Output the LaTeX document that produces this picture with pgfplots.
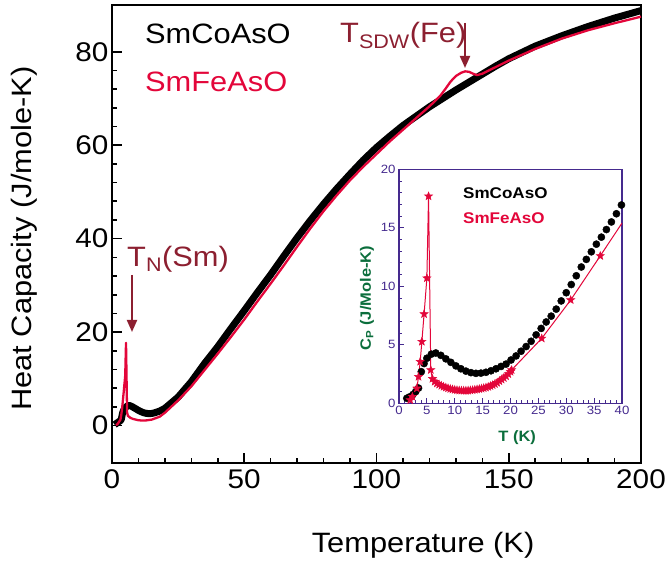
\documentclass[border=0pt]{standalone}
\usepackage{fontspec}
\setmainfont{Liberation Sans}[FakeStretch=1.1]
\usepackage{pgfplots}
\pgfplotsset{compat=1.18}
\usetikzlibrary{arrows.meta}
\definecolor{cred}{HTML}{E3063A}
\definecolor{dred}{HTML}{8C1F30}
\definecolor{ipurp}{HTML}{452A8E}
\definecolor{igreen}{HTML}{0B6E3C}

\pgfdeclareplotmark{fstar}{%
  \pgfpathmoveto{\pgfpointpolar{90}{\pgfplotmarksize}}%
  \pgfpathlineto{\pgfpointpolar{126}{0.42\pgfplotmarksize}}%
  \pgfpathlineto{\pgfpointpolar{162}{\pgfplotmarksize}}%
  \pgfpathlineto{\pgfpointpolar{198}{0.42\pgfplotmarksize}}%
  \pgfpathlineto{\pgfpointpolar{234}{\pgfplotmarksize}}%
  \pgfpathlineto{\pgfpointpolar{270}{0.42\pgfplotmarksize}}%
  \pgfpathlineto{\pgfpointpolar{306}{\pgfplotmarksize}}%
  \pgfpathlineto{\pgfpointpolar{342}{0.42\pgfplotmarksize}}%
  \pgfpathlineto{\pgfpointpolar{18}{\pgfplotmarksize}}%
  \pgfpathlineto{\pgfpointpolar{54}{0.42\pgfplotmarksize}}%
  \pgfpathclose
  \pgfusepathqfillstroke
}

\pgfplotstableread{
T C
1.0 0.2
2.0 0.6
3.0 1.0
3.5 1.3
4.0 2.7
4.5 3.4
5.0 3.85
5.8 4.2
6.6 4.3
7.5 4.1
8.4 3.8
9.3 3.5
10.2 3.2
11.1 2.95
12.0 2.75
13.0 2.62
14.0 2.56
15.0 2.6
16.0 2.72
18.0 3.1
20.0 3.7
25.0 6.1
30.0 9.4
35.0 13.3
40.0 16.9
45.0 20.8
50.0 24.6
55.0 28.5
60.0 32.3
65.0 36.3
70.0 40.2
75.0 43.9
80.0 47.4
85.0 50.7
90.0 53.8
95.0 56.8
100.0 59.5
105.0 61.9
110.0 64.2
115.0 66.2
120.0 68.2
125.0 70.0
130.0 71.8
135.0 73.5
140.0 75.2
145.0 76.9
150.0 78.5
160.0 81.2
170.0 83.4
180.0 85.4
190.0 87.2
200.0 88.8
}\cocomain

\pgfplotstableread{
T C
1.5 0.1
2.0 0.28
2.4 0.57
3.2 1.28
3.5 2.27
3.8 3.56
4.1 5.27
4.5 7.63
5.0 10.7
5.3 17.7
5.7 2.85
6.0 2.1
7.0 1.65
8.0 1.42
10.0 1.15
11.5 1.08
13.0 1.12
15.0 1.28
18.0 1.9
20.0 2.75
25.0 5.4
30.0 8.4
35.0 11.9
40.0 15.4
45.0 19.0
50.0 22.7
55.0 26.6
60.0 30.4
65.0 34.3
70.0 38.3
75.0 42.2
80.0 45.9
85.0 49.3
90.0 52.5
95.0 55.4
100.0 58.1
105.0 60.8
110.0 63.3
115.0 65.8
120.0 68.3
122.0 69.4
124.0 70.5
126.0 72.0
128.0 73.6
130.0 74.8
132.0 75.5
133.5 75.8
135.0 75.7
136.5 75.3
138.0 75.0
140.0 75.3
145.0 76.7
150.0 78.1
160.0 80.6
170.0 82.8
180.0 84.6
190.0 86.1
200.0 87.5
}\femain

\pgfplotstableread{
T C
1.4 0.43
1.9 0.55
2.5 0.75
3.0 1.0
3.5 1.3
4.0 2.7
4.5 3.4
5.0 3.85
5.8 4.2
6.6 4.3
7.5 4.1
8.4 3.8
9.3 3.5
10.2 3.2
11.1 2.95
12.0 2.75
12.9 2.62
13.8 2.56
14.7 2.58
15.6 2.65
16.5 2.78
17.4 2.95
18.3 3.15
19.2 3.35
20.1 3.7
21.0 4.05
21.9 4.45
22.8 4.85
23.7 5.3
24.6 5.85
25.5 6.4
26.4 6.95
27.3 7.45
28.2 8.05
29.1 8.75
30.0 9.45
30.9 10.15
31.8 10.9
32.7 11.65
33.6 12.3
34.5 12.95
35.4 13.6
36.3 14.2
37.2 14.85
38.1 15.5
39.0 16.2
39.9 16.95
}\coinset

\pgfplotstableread{
T C
2.0 0.28
2.4 0.57
3.2 1.28
3.5 2.27
3.8 3.56
4.1 5.27
4.5 7.63
5.0 10.7
5.3 17.7
5.7 2.85
6.0 2.1
6.4 1.85
6.8 1.7
7.2 1.6
7.6 1.5
8.0 1.42
8.4 1.35
8.8 1.29
9.2 1.23
9.6 1.19
10.0 1.15
10.4 1.12
10.8 1.1
11.2 1.09
11.6 1.08
12.0 1.08
12.4 1.09
12.8 1.11
13.2 1.13
13.6 1.16
14.0 1.19
14.4 1.22
14.8 1.26
15.2 1.3
15.6 1.35
16.0 1.41
16.4 1.48
16.8 1.56
17.2 1.65
17.6 1.76
18.0 1.9
18.4 2.03
18.8 2.17
19.2 2.32
19.6 2.5
20.0 2.7
20.2 2.85
25.6 5.55
30.8 8.83
36.1 12.6
}\feinsetmarks

\pgfplotstableread{
T C
2.0 0.28
2.4 0.57
3.2 1.28
3.5 2.27
3.8 3.56
4.1 5.27
4.5 7.63
5.0 10.7
5.3 17.7
5.7 2.85
6.0 2.1
7.0 1.65
8.0 1.42
10.0 1.15
12.0 1.08
14.0 1.19
16.0 1.41
18.0 1.9
20.2 2.85
25.6 5.55
30.8 8.83
36.1 12.6
40.0 15.4
}\feinsetline

\begin{document}
\begin{tikzpicture}[x=1pt,y=1pt]
\path[use as bounding box] (-112pt,-99pt) rectangle (555pt,463pt);
\begin{axis}[at={(0pt,0pt)}, anchor=south west, scale only axis,
  width=529pt, height=458pt,
  xmin=0, xmax=200, ymin=-8, ymax=90,
  xtick={0,50,...,200}, ytick={0,20,...,80},
  minor x tick num=4, minor y tick num=4,
  tick align=inside, xtick pos=left, ytick pos=left,
  major tick length=10pt, minor tick length=5.5pt,
  axis line style={line width=2pt},
  every tick/.style={black, line width=1.6pt},
  /pgf/number format/assume math mode=true,
  tick label style={font=\fontsize{27}{30}\selectfont},
  xticklabel style={yshift=-3pt},
  xlabel={Temperature (K)},
  xlabel style={font=\fontsize{28}{32}\selectfont, at={(axis description cs:0.588,-0.179)}, anchor=center},
  ylabel={Heat Capacity (J/mole-K)},
  ylabel style={font=\fontsize{28}{32}\selectfont, at={(axis description cs:-0.165,0.49)}, anchor=center},
]
\addplot[black, line width=7pt, line join=round] table {\cocomain};
\addplot[cred, line width=2.3pt, line join=round] table {\femain};
\end{axis}

\node[anchor=base west, font=\fontsize{28}{32}\selectfont, inner sep=0pt] at (33pt,419pt) {SmCoAsO};
\node[anchor=base west, font=\fontsize{28}{32}\selectfont, text=cred, inner sep=0pt] at (33pt,371pt) {SmFeAsO};
\node[anchor=base west, font=\fontsize{28}{32}\selectfont, text=dred, inner sep=0pt] at (228pt,420pt) {T\textsubscript{SDW}(Fe)};
\node[anchor=base west, font=\fontsize{28}{32}\selectfont, text=dred, inner sep=0pt] at (15pt,196pt) {T\textsubscript{N}(Sm)};
\draw[dred, line width=2pt, -{Triangle[length=12pt,width=10pt]}] (353pt,440pt) -- (353pt,395pt);
\draw[dred, line width=2pt, -{Triangle[length=12pt,width=10pt]}] (20pt,188pt) -- (20pt,131pt);

\begin{axis}[at={(287pt,59.7pt)}, anchor=south west, scale only axis,
  width=223pt, height=234pt,
  xmin=0, xmax=40, ymin=0, ymax=20,
  xtick={0,5,...,40}, ytick={0,5,...,20},
  minor x tick num=4, minor y tick num=4,
  tick align=inside, xtick pos=left, ytick pos=left,
  major tick length=5pt, minor tick length=3pt,
  axis line style={ipurp, line width=1.3pt},
  every tick/.style={ipurp, line width=0.9pt},
  axis background/.style={fill=white},
  /pgf/number format/assume math mode=true,
  tick label style={font=\fontsize{12}{14}\selectfont, text=ipurp},
  xticklabel style={yshift=1pt},
  xlabel={T (K)},
  xlabel style={font=\bfseries\fontsize{15}{18}\selectfont, text=igreen, at={(axis description cs:0.53,-0.145)}, anchor=center},
  ylabel={C\textsubscript{P} (J/Mole-K)},
  ylabel style={font=\bfseries\fontsize{15}{18}\selectfont, text=igreen, at={(axis description cs:-0.143,0.45)}, anchor=center},
]
\addplot[only marks, mark=*, mark size=3.6pt, black] table {\coinset};
\addplot[cred, line width=1pt, mark=none] table {\feinsetline};
\addplot[only marks, mark=fstar, mark size=4.2pt, cred, mark options={line width=0.5pt}] table {\feinsetmarks};
\end{axis}
\node[anchor=west, font=\bfseries\fontsize{15.5}{18}\selectfont, inner sep=0pt] at (351pt,270pt) {SmCoAsO};
\node[anchor=west, font=\bfseries\fontsize{15.5}{18}\selectfont, text=cred, inner sep=0pt] at (351pt,245pt) {SmFeAsO};
\end{tikzpicture}
\end{document}
